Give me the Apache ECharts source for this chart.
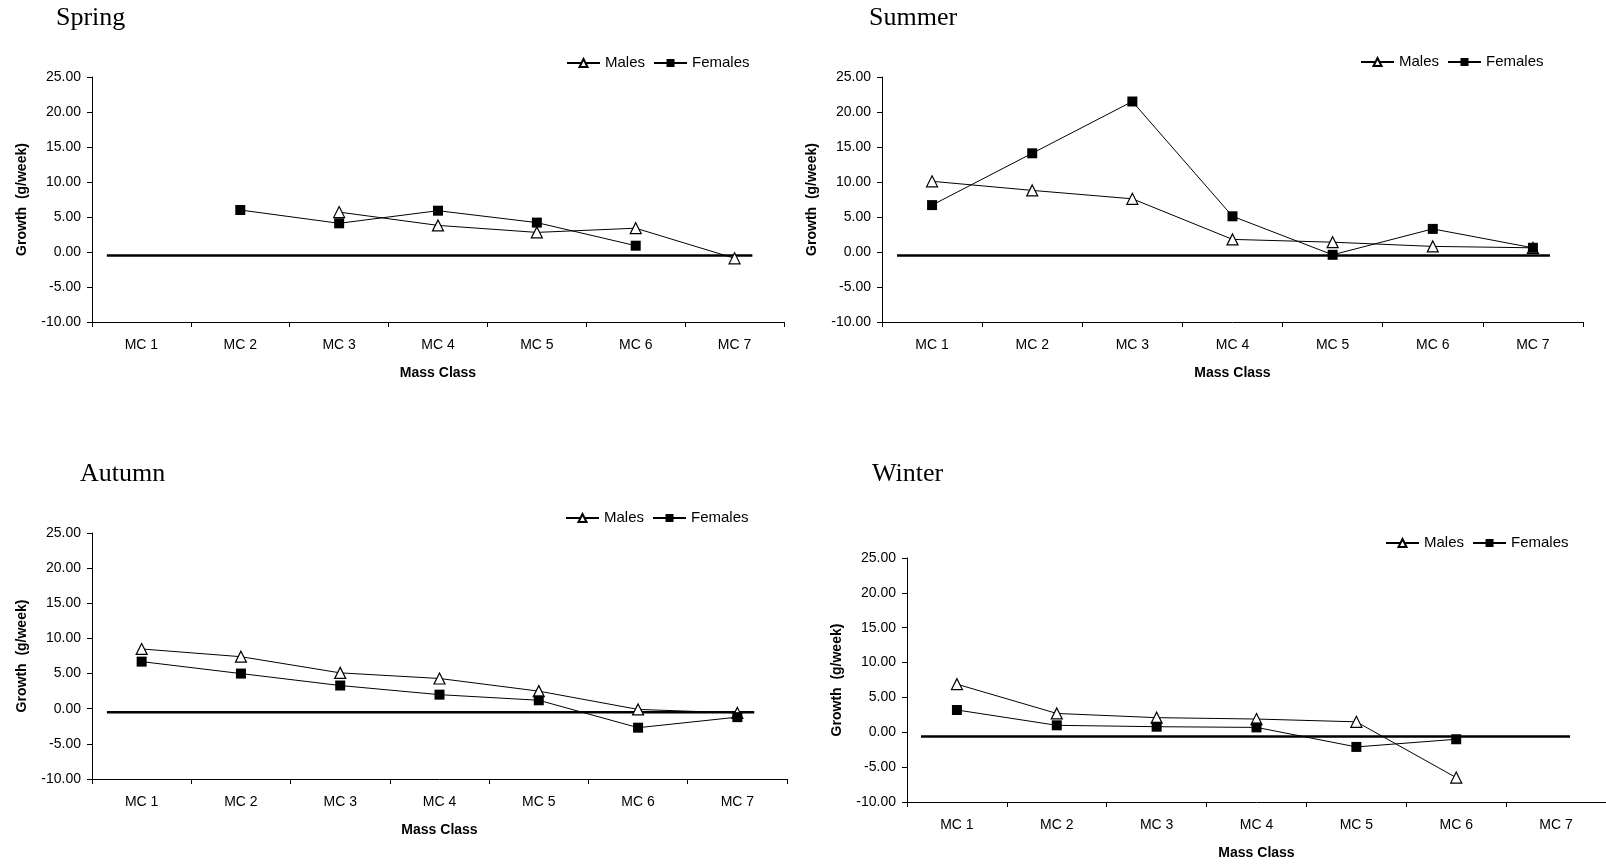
<!DOCTYPE html>
<html>
<head>
<meta charset="utf-8">
<script src="https://cdn.jsdelivr.net/npm/echarts@6/dist/echarts.min.js"></script>
<style>
html,body{margin:0;padding:0;background:#fff;}
#chart{width:1606px;height:864px;}
</style>
</head>
<body>
<div id="chart"></div>
<script>
// ---- data ----
const categories = ['MC 1', 'MC 2', 'MC 3', 'MC 4', 'MC 5', 'MC 6', 'MC 7'];
const panelTitles = ['Spring', 'Summer', 'Autumn', 'Winter'];
const seriesNames = ['Males', 'Females'];

const springMales   = [null, null, 5.7, 3.8, 2.8, 3.4, -0.9];
const springFemales = [null, 6.0, 4.1, 5.9, 4.2, 0.9, null];
const summerMales   = [10.1, 8.8, 7.6, 1.8, 1.4, 0.8, 0.6];
const summerFemales = [6.7, 14.1, 21.5, 5.1, -0.4, 3.3, 0.6];
const autumnMales   = [8.5, 7.4, 5.1, 4.3, 2.5, -0.1, -0.6];
const autumnFemales = [6.7, 5.0, 3.3, 2.0, 1.2, -2.7, -1.2];
const winterMales   = [6.9, 2.7, 2.1, 1.9, 1.5, -6.5, null];
const winterFemales = [3.2, 1.0, 0.8, 0.7, -2.1, -1.0, null];

const yMin = -10, yMax = 25, yInterval = 5;

// thick horizontal reference line drawn in each panel (value, x-extent in category units)
const refLineLevel = [-0.5, -0.5, -0.5, -0.6];
const refLineStart = [-0.35, -0.35, -0.35, -0.36];
const refLineEnd   = [6.18, 6.17, 6.17, 6.14];

const malesData = [springMales, summerMales, autumnMales, winterMales];
const femalesData = [springFemales, summerFemales, autumnFemales, winterFemales];

// ---- layout ----
const grids = [
  {left: 92, top: 77, width: 692, height: 245},
  {left: 882, top: 77, width: 701, height: 245},
  {left: 92, top: 533, width: 695, height: 246},
  {left: 907, top: 558, width: 702, height: 244}
];
const titlePos = [
  {left: 56, top: 5},
  {left: 869, top: 5},
  {left: 80, top: 461},
  {left: 872, top: 461}
];
const legendPos = [
  {left: 566, top: 55},
  {left: 1360, top: 54},
  {left: 565, top: 510},
  {left: 1385, top: 535}
];

const sans = "'Liberation Sans', Arial, sans-serif";
const serif = "'Liberation Serif', 'Times New Roman', serif";

const option = {
  backgroundColor: '#ffffff',
  animation: false,
  title: [], legend: [], grid: [], xAxis: [], yAxis: [], series: []
};

for (let i = 0; i < 4; i++) {
  option.grid.push(Object.assign({containLabel: false}, grids[i]));
  option.title.push({
    text: panelTitles[i], left: titlePos[i].left, top: titlePos[i].top, padding: 0,
    textStyle: {fontFamily: serif, fontSize: 26, fontWeight: 'normal', color: '#000', lineHeight: 26}
  });
  option.legend.push({
    data: seriesNames, left: legendPos[i].left, top: legendPos[i].top, padding: 0,
    orient: 'horizontal', itemWidth: 33, itemHeight: 10, itemGap: 8,
    selectedMode: false,
    textStyle: {fontFamily: sans, fontSize: 15, color: '#000', lineHeight: 16}
  });
  option.xAxis.push({
    type: 'category', gridIndex: i, data: categories, boundaryGap: true,
    name: 'Mass Class', nameLocation: 'middle', nameGap: 44,
    nameTextStyle: {fontFamily: sans, fontSize: 14, fontWeight: 'bold', color: '#000'},
    axisLine: {show: true, onZero: false, lineStyle: {color: '#000', width: 1}},
    axisTick: {show: true, length: 5, alignWithLabel: false, lineStyle: {color: '#000'}},
    axisLabel: {fontFamily: sans, fontSize: 14, color: '#000', margin: 16, interval: 0},
    splitLine: {show: false}
  });
  option.yAxis.push({
    type: 'value', gridIndex: i, min: yMin, max: yMax, interval: yInterval,
    name: 'Growth  (g/week)', nameLocation: 'middle', nameGap: 63, nameRotate: 90,
    nameTextStyle: {fontFamily: sans, fontSize: 14, fontWeight: 'bold', color: '#000'},
    axisLine: {show: true, onZero: false, lineStyle: {color: '#000', width: 1}},
    axisTick: {show: true, length: 5, lineStyle: {color: '#000'}},
    axisLabel: {fontFamily: sans, fontSize: 14, color: '#000', margin: 11,
      formatter: v => v.toFixed(2)},
    splitLine: {show: false}
  });
}
// hidden value x axes for the reference lines
for (let i = 0; i < 4; i++) {
  option.xAxis.push({type: 'value', gridIndex: i, min: -0.5, max: 6.5, show: false});
}

for (let i = 0; i < 4; i++) {
  option.series.push({
    type: 'line', name: 'Reference', xAxisIndex: 4 + i, yAxisIndex: i,
    data: [[refLineStart[i], refLineLevel[i]], [refLineEnd[i], refLineLevel[i]]],
    symbol: 'none', lineStyle: {color: '#000', width: 2.5}, z: 1, silent: true
  });
  option.series.push({
    type: 'line', name: 'Males', xAxisIndex: i, yAxisIndex: i,
    data: malesData[i], connectNulls: false,
    symbol: 'triangle', symbolSize: 11, showSymbol: true,
    lineStyle: {color: '#000', width: 1},
    itemStyle: {color: '#fff', borderColor: '#000', borderWidth: 1.2},
    z: 3
  });
  option.series.push({
    type: 'line', name: 'Females', xAxisIndex: i, yAxisIndex: i,
    data: femalesData[i], connectNulls: false,
    symbol: 'rect', symbolSize: 10, showSymbol: true,
    lineStyle: {color: '#000', width: 1},
    itemStyle: {color: '#000', borderColor: '#000', borderWidth: 0},
    z: 4
  });
}

const chart = echarts.init(document.getElementById('chart'), null, {renderer: 'canvas'});
chart.setOption(option);
</script>
</body>
</html>
